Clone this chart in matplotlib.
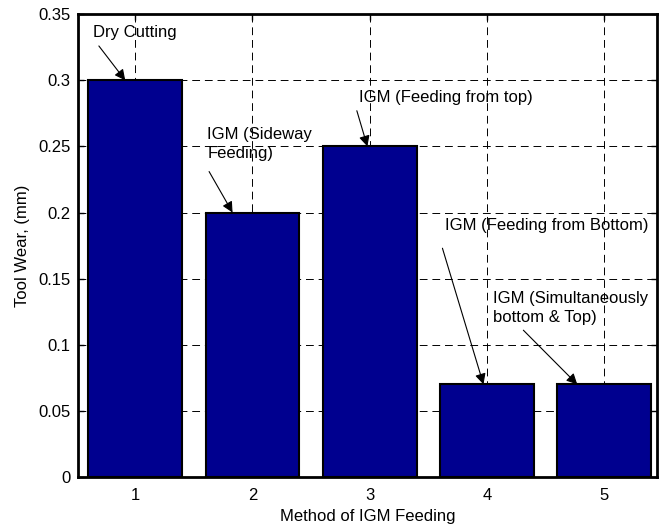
import matplotlib.pyplot as plt

plt.rcParams['font.family'] = ['Liberation Sans', 'DejaVu Sans']

# Data
methods = [1, 2, 3, 4, 5]
wear = [0.30, 0.20, 0.25, 0.07, 0.07]
labels = ['Dry Cutting', 'IGM (Sideway\nFeeding)', 'IGM (Feeding from top)',
          'IGM (Feeding from Bottom)', 'IGM (Simultaneously\nbottom & Top)']
# annotation text anchor (x, y) and arrow tail, in data units
text_xy = [(0.64, 0.336), (1.615, 0.252), (2.905, 0.287), (3.64, 0.19), (4.05, 0.128)]
tip_x = [0.915, 1.83, 2.98, 3.97, 4.77]
tail_xy = [(0.69, 0.326), (1.63, 0.231), (2.89, 0.277), (3.62, 0.173), (4.31, 0.111)]

fig = plt.figure(figsize=(6.59, 5.27), dpi=100)
ax = fig.add_axes([0.118, 0.095, 0.879, 0.878])

ax.bar(methods, wear, width=0.8, color='#00008F', edgecolor='black', linewidth=1.5, zorder=3)

ax.set_xlim(0.51, 5.45)
ax.set_ylim(0, 0.35)
ax.set_xticks(methods)
ax.set_yticks([0, 0.05, 0.1, 0.15, 0.2, 0.25, 0.3, 0.35])
ax.set_yticklabels(['0', '0.05', '0.1', '0.15', '0.2', '0.25', '0.3', '0.35'])
ax.tick_params(direction='in', top=True, right=True, labelsize=12, length=4, width=1, pad=5)
ax.tick_params(axis='x', pad=8)
ax.set_axisbelow(True)
ax.grid(True, color='black', linestyle=(0, (8, 5)), linewidth=0.7)
for s in ax.spines.values():
    s.set_linewidth(2)

ax.set_xlabel('Method of IGM Feeding', fontsize=12, labelpad=4)
ax.set_ylabel('Tool Wear, (mm)', fontsize=12, labelpad=6)

for i in range(len(methods)):
    ax.text(text_xy[i][0], text_xy[i][1], labels[i], fontsize=12,
            ha='left', va='center', linespacing=1.35, zorder=5)
    ax.annotate('', xy=(tip_x[i], wear[i]), xytext=tail_xy[i],
                arrowprops=dict(arrowstyle='-|>', color='black', lw=0.8,
                                mutation_scale=16, shrinkA=0, shrinkB=0),
                zorder=5)

fig.savefig('out.png', dpi=100)
